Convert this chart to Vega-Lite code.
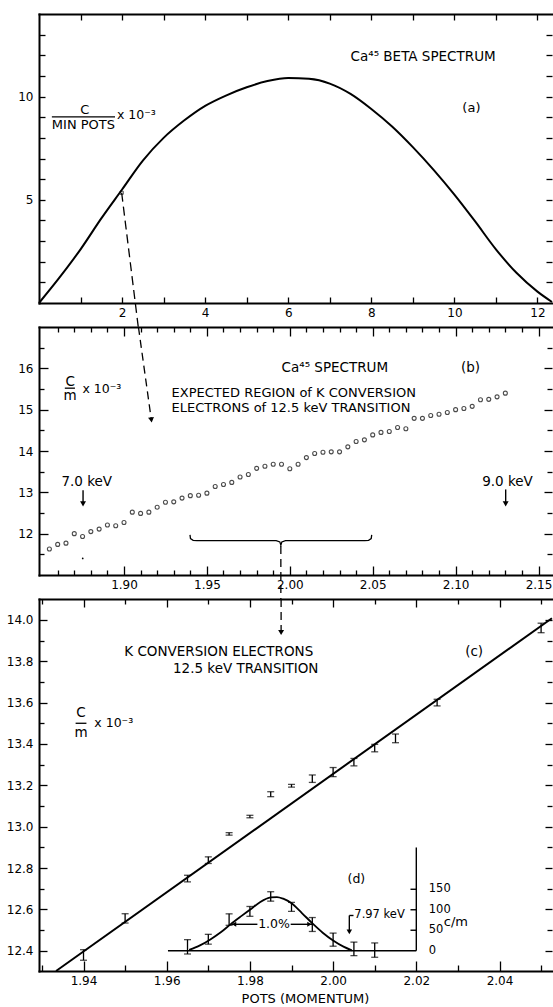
{
  "$schema": "https://vega.github.io/schema/vega-lite/v6.json",
  "background": "white",
  "padding": {"left": 6, "top": 13, "right": 0, "bottom": 0},
  "spacing": 24,
  "bounds": "flush",
  "config": {
    "view": {"stroke": null},
    "axis": {"grid": false, "domainColor": "black", "domainWidth": 2, "domainCap": "square", "tickColor": "black", "tickWidth": 1.3, "labelColor": "black", "labelFont": "DejaVu Sans", "labelFontSize": 12, "labelFlush": false, "labelOverlap": false, "titleFont": "DejaVu Sans", "titleColor": "black", "titleFontWeight": "normal", "titleFontSize": 13},
    "text": {"font": "DejaVu Sans", "fontSize": 13.5, "color": "black"}
  },
  "vconcat": [
    {
      "width": 513, "height": 289,
      "encoding": {
        "x": {"field": "x", "type": "quantitative", "scale": {"domain": [0, 12.35]}, "axis": null},
        "y": {"field": "y", "type": "quantitative", "scale": {"domain": [0, 14]}, "axis": null}
      },
      "resolve": {"axis": {"x": "independent", "y": "independent"}},
      "layer": [
        {
          "data": {"values": [
            {"x": 0, "y": 0}, {"x": 0.5, "y": 1.25}, {"x": 1.0, "y": 2.6}, {"x": 1.5, "y": 4.1}, {"x": 2.0, "y": 5.5},
            {"x": 2.5, "y": 6.9}, {"x": 3.0, "y": 8.0}, {"x": 3.5, "y": 8.85}, {"x": 4.0, "y": 9.55}, {"x": 4.5, "y": 10.05},
            {"x": 5.0, "y": 10.45}, {"x": 5.5, "y": 10.75}, {"x": 6.0, "y": 10.9}, {"x": 6.5, "y": 10.86}, {"x": 7.0, "y": 10.63},
            {"x": 7.5, "y": 10.13}, {"x": 8.0, "y": 9.4}, {"x": 8.5, "y": 8.55}, {"x": 9.0, "y": 7.55}, {"x": 9.5, "y": 6.45},
            {"x": 10.0, "y": 5.25}, {"x": 10.5, "y": 3.95}, {"x": 11.0, "y": 2.6}, {"x": 11.5, "y": 1.45}, {"x": 12.0, "y": 0.55},
            {"x": 12.35, "y": 0.05}
          ]},
          "mark": {"type": "line", "color": "black", "strokeWidth": 2, "interpolate": "monotone"},
          "encoding": {
            "x": {"field": "x", "type": "quantitative", "scale": {"domain": [0, 12.35]}, "axis": {"orient": "bottom", "values": [1,2,3,4,5,6,7,8,9,10,11,12], "tickSize": -6, "labelPadding": 10, "labelExpr": "datum.value % 2 === 0 ? datum.label : ''", "title": null}},
            "y": {"field": "y", "type": "quantitative", "scale": {"domain": [0, 14]}, "axis": {"orient": "left", "values": [1,2,3,4,5,6,7,8,9,10,11,12,13], "tickSize": -6, "labelPadding": 12, "labelExpr": "(datum.value === 5 || datum.value === 10) ? datum.label : ''", "title": null}}
          }
        },
        {
          "data": {"values": [{"x": 1.99, "y": 5.34, "x2": 2.39, "y2": -1.163}]},
          "mark": {"type": "rule", "color": "black", "strokeWidth": 1.3, "strokeDash": [9, 5], "clip": false},
          "encoding": {
            "x": {"field": "x", "type": "quantitative", "scale": {"domain": [0, 12.35]}, "axis": {"orient": "top", "values": [1,2,3,4,5,6,7,8,9,10,11,12], "tickSize": -6, "labels": false, "title": null}},
            "y": {"field": "y", "type": "quantitative", "scale": {"domain": [0, 14]}, "axis": {"orient": "right", "values": [1,2,3,4,5,6,7,8,9,10,11,12,13], "tickSize": -6, "labels": false, "domain": false, "title": null}},
            "x2": {"field": "x2"}, "y2": {"field": "y2"}
          }
        },
        {
          "data": {"values": [{"x": 1.99, "y": 5.34}]},
          "mark": {"type": "point", "shape": "square", "size": 10, "filled": false, "color": "black", "strokeWidth": 1},
          "encoding": {}
        },
        {
          "data": {"values": [{"x": 7.5, "y": 11.93, "t": "Ca⁴⁵ BETA SPECTRUM"}]},
          "mark": {"type": "text", "align": "left", "baseline": "middle", "fontSize": 13.5},
          "encoding": {"text": {"field": "t"}}
        },
        {
          "data": {"values": [{"x": 1.875, "y": 9.1, "t": "x 10⁻³"}]},
          "mark": {"type": "text", "align": "left", "baseline": "middle", "fontSize": 12.5},
          "encoding": {"text": {"field": "t"}}
        },
        {
          "data": {"values": [{"x": 10.41, "y": 9.45, "t": "(a)"}, {"x": 1.1, "y": 9.35, "t": "C"}, {"x": 1.07, "y": 8.62, "t": "MIN POTS"}]},
          "mark": {"type": "text", "align": "center", "baseline": "middle", "fontSize": 13},
          "encoding": {"text": {"field": "t"}}
        },
        {
          "data": {"values": [{"x": 0.31, "y": 9.02, "x2": 1.83, "y2": 9.02}]},
          "mark": {"type": "rule", "color": "black", "strokeWidth": 1.3},
          "encoding": {"x2": {"field": "x2"}, "y2": {"field": "y2"}}
        }
      ]
    },
    {
      "width": 513, "height": 248,
      "encoding": {
        "x": {"field": "x", "type": "quantitative", "scale": {"domain": [1.84873, 2.15814]}, "axis": null},
        "y": {"field": "y", "type": "quantitative", "scale": {"domain": [11, 17]}, "axis": null}
      },
      "resolve": {"axis": {"x": "independent", "y": "independent"}},
      "layer": [
        {
          "data": {"values": [
            {"x": 1.855, "y": 11.63}, {"x": 1.86, "y": 11.74}, {"x": 1.865, "y": 11.77}, {"x": 1.87, "y": 12.0}, {"x": 1.875, "y": 11.93},
            {"x": 1.88, "y": 12.05}, {"x": 1.885, "y": 12.11}, {"x": 1.89, "y": 12.21}, {"x": 1.895, "y": 12.19}, {"x": 1.9, "y": 12.27},
            {"x": 1.905, "y": 12.52}, {"x": 1.91, "y": 12.49}, {"x": 1.915, "y": 12.52}, {"x": 1.92, "y": 12.64}, {"x": 1.925, "y": 12.76},
            {"x": 1.93, "y": 12.77}, {"x": 1.935, "y": 12.86}, {"x": 1.94, "y": 12.92}, {"x": 1.945, "y": 12.93}, {"x": 1.95, "y": 12.98},
            {"x": 1.955, "y": 13.14}, {"x": 1.96, "y": 13.19}, {"x": 1.965, "y": 13.24}, {"x": 1.97, "y": 13.37}, {"x": 1.975, "y": 13.43},
            {"x": 1.98, "y": 13.58}, {"x": 1.985, "y": 13.63}, {"x": 1.99, "y": 13.68}, {"x": 1.995, "y": 13.68}, {"x": 2.0, "y": 13.57},
            {"x": 2.005, "y": 13.68}, {"x": 2.01, "y": 13.84}, {"x": 2.015, "y": 13.94}, {"x": 2.02, "y": 13.97}, {"x": 2.025, "y": 13.98},
            {"x": 2.03, "y": 13.98}, {"x": 2.035, "y": 14.1}, {"x": 2.04, "y": 14.23}, {"x": 2.045, "y": 14.27}, {"x": 2.05, "y": 14.39},
            {"x": 2.055, "y": 14.45}, {"x": 2.06, "y": 14.47}, {"x": 2.065, "y": 14.57}, {"x": 2.07, "y": 14.54}, {"x": 2.075, "y": 14.79},
            {"x": 2.08, "y": 14.79}, {"x": 2.085, "y": 14.86}, {"x": 2.09, "y": 14.89}, {"x": 2.095, "y": 14.93}, {"x": 2.1, "y": 15.0},
            {"x": 2.105, "y": 15.03}, {"x": 2.11, "y": 15.08}, {"x": 2.115, "y": 15.24}, {"x": 2.12, "y": 15.25}, {"x": 2.125, "y": 15.31},
            {"x": 2.13, "y": 15.4}
          ]},
          "mark": {"type": "point", "shape": "circle", "size": 16, "filled": false, "color": "black", "strokeWidth": 1.1},
          "encoding": {
            "x": {"field": "x", "type": "quantitative", "scale": {"domain": [1.84873, 2.15814]}, "axis": {"orient": "bottom", "values": [1.9, 1.95, 2.0, 2.05, 2.1, 2.15], "format": ".2f", "tickSize": -9, "labelPadding": 13, "title": null}},
            "y": {"field": "y", "type": "quantitative", "scale": {"domain": [11, 17]}, "axis": {"orient": "left", "values": [12, 13, 14, 15, 16], "tickSize": -9, "labelPadding": 15, "title": null}}
          }
        },
        {
          "data": {"values": [
            {"x": 1.9398, "y": 11.97}, {"x": 1.9401, "y": 11.88}, {"x": 1.9417, "y": 11.84}, {"x": 1.944, "y": 11.83}, {"x": 1.9918, "y": 11.83},
            {"x": 1.994, "y": 11.8}, {"x": 1.9946, "y": 11.72}, {"x": 1.9952, "y": 11.8}, {"x": 1.9974, "y": 11.83}, {"x": 2.0452, "y": 11.83},
            {"x": 2.0475, "y": 11.84}, {"x": 2.0491, "y": 11.88}, {"x": 2.0494, "y": 11.97}
          ]},
          "mark": {"type": "line", "color": "black", "strokeWidth": 1.3},
          "encoding": {
            "x": {"field": "x", "type": "quantitative", "scale": {"domain": [1.84873, 2.15814]}, "axis": {"orient": "top", "values": [1.9, 1.95, 2.0, 2.05, 2.1, 2.15], "tickSize": -9, "labels": false, "title": null}},
            "y": {"field": "y", "type": "quantitative", "scale": {"domain": [11, 17]}, "axis": {"orient": "right", "values": [12, 13, 14, 15, 16], "tickSize": -8, "labels": false, "domain": false, "title": null}}
          }
        },
        {
          "data": {"values": [{"x": 1.8753, "y": 13.05, "x2": 1.8753, "y2": 12.72}, {"x": 2.1302, "y": 13.07, "x2": 2.1302, "y2": 12.72}]},
          "mark": {"type": "rule", "color": "black", "strokeWidth": 1.4},
          "encoding": {
            "x": {"field": "x", "type": "quantitative", "scale": {"domain": [1.84873, 2.15814]}, "axis": {"orient": "bottom", "values": [1.86,1.87,1.88,1.89,1.91,1.92,1.93,1.94,1.96,1.97,1.98,1.99,2.01,2.02,2.03,2.04,2.06,2.07,2.08,2.09,2.11,2.12,2.13,2.14], "tickSize": -5, "labels": false, "domain": false, "title": null}},
            "y": {"field": "y", "type": "quantitative", "scale": {"domain": [11, 17]}, "axis": {"orient": "left", "values": [11.5,12.5,13.5,14.5,15.5,16.5], "tickSize": -5, "labels": false, "domain": false, "title": null}},
            "x2": {"field": "x2"}, "y2": {"field": "y2"}
          }
        },
        {
          "data": {"values": [{"x": 1.9087, "y": 17.0, "x2": 1.9165, "y2": 14.75}, {"x": 1.9946, "y": 11.7, "x2": 1.9946, "y2": 10.42}]},
          "mark": {"type": "rule", "color": "black", "strokeWidth": 1.3, "strokeDash": [8, 5], "clip": false},
          "encoding": {
            "x": {"field": "x", "type": "quantitative", "scale": {"domain": [1.84873, 2.15814]}, "axis": {"orient": "top", "values": [1.86,1.87,1.88,1.89,1.91,1.92,1.93,1.94,1.96,1.97,1.98,1.99,2.01,2.02,2.03,2.04,2.06,2.07,2.08,2.09,2.11,2.12,2.13,2.14], "tickSize": -5, "labels": false, "domain": false, "title": null}},
            "y": {"field": "y", "type": "quantitative", "scale": {"domain": [11, 17]}, "axis": {"orient": "right", "values": [11.5,12.5,13.5,14.5,15.5,16.5], "tickSize": -5, "labels": false, "domain": false, "title": null}},
            "x2": {"field": "x2"}, "y2": {"field": "y2"}
          }
        },
        {
          "data": {"values": [{"x": 1.8753, "y": 12.72}, {"x": 2.1302, "y": 12.72}]},
          "mark": {"type": "point", "shape": "triangle-down", "size": 35, "filled": true, "color": "black", "opacity": 1},
          "encoding": {}
        },
        {
          "data": {"values": [{"x": 1.9165, "y": 14.75}]},
          "mark": {"type": "point", "shape": "triangle-down", "size": 35, "filled": true, "color": "black", "opacity": 1, "angle": 352},
          "encoding": {}
        },
        {
          "data": {"values": [{"x": 1.8751, "y": 11.4}]},
          "mark": {"type": "point", "shape": "circle", "size": 3, "filled": true, "color": "black", "opacity": 1},
          "encoding": {}
        },
        {
          "data": {"values": [{"x": 1.995, "y": 16.0, "t": "Ca⁴⁵ SPECTRUM"}]},
          "mark": {"type": "text", "align": "left", "baseline": "middle", "fontSize": 13.5},
          "encoding": {"text": {"field": "t"}}
        },
        {
          "data": {"values": [
            {"x": 1.9287, "y": 15.395, "t": "EXPECTED REGION of K CONVERSION"},
            {"x": 1.9287, "y": 15.04, "t": "ELECTRONS of 12.5 keV TRANSITION"}
          ]},
          "mark": {"type": "text", "align": "left", "baseline": "middle", "fontSize": 13},
          "encoding": {"text": {"field": "t"}}
        },
        {
          "data": {"values": [{"x": 1.8749, "y": 15.49, "t": "x 10⁻³"}]},
          "mark": {"type": "text", "align": "left", "baseline": "middle", "fontSize": 12.5},
          "encoding": {"text": {"field": "t"}}
        },
        {
          "data": {"values": [
            {"x": 2.109, "y": 16.0, "t": "(b)"},
            {"x": 1.8775, "y": 13.245, "t": "7.0 keV"},
            {"x": 2.1313, "y": 13.245, "t": "9.0 keV"},
            {"x": 1.8675, "y": 15.68, "t": "C"},
            {"x": 1.8675, "y": 15.32, "t": "m"}
          ]},
          "mark": {"type": "text", "align": "center", "baseline": "middle", "fontSize": 13.5},
          "encoding": {"text": {"field": "t"}}
        },
        {
          "data": {"values": [{"x": 1.8643, "y": 15.52, "x2": 1.8704, "y2": 15.52}]},
          "mark": {"type": "rule", "color": "black", "strokeWidth": 1.3},
          "encoding": {"x2": {"field": "x2"}, "y2": {"field": "y2"}}
        }
      ]
    },
    {
      "width": 513, "height": 372,
      "encoding": {
        "x": {"field": "x", "type": "quantitative", "scale": {"domain": [1.9293, 2.05262]}, "axis": null},
        "y": {"field": "y", "type": "quantitative", "scale": {"domain": [12.302, 14.101]}, "axis": null}
      },
      "resolve": {"scale": {"y": "independent"}, "axis": {"x": "independent", "y": "independent"}},
      "layer": [
        {
          "data": {"name": "errc", "values": [
            {"x": 1.94, "lo": 12.354, "hi": 12.405}, {"x": 1.95, "lo": 12.534, "hi": 12.579}, {"x": 1.965, "lo": 12.733, "hi": 12.765},
            {"x": 1.97, "lo": 12.822, "hi": 12.854}, {"x": 1.975, "lo": 12.959, "hi": 12.971}, {"x": 1.98, "lo": 13.043, "hi": 13.055},
            {"x": 1.985, "lo": 13.145, "hi": 13.169}, {"x": 1.99, "lo": 13.191, "hi": 13.205}, {"x": 1.995, "lo": 13.214, "hi": 13.25},
            {"x": 2.0, "lo": 13.242, "hi": 13.286}, {"x": 2.005, "lo": 13.294, "hi": 13.33}, {"x": 2.01, "lo": 13.362, "hi": 13.398},
            {"x": 2.015, "lo": 13.406, "hi": 13.448}, {"x": 2.025, "lo": 13.584, "hi": 13.616}, {"x": 2.05, "lo": 13.938, "hi": 13.984}
          ]},
          "mark": {"type": "rule", "color": "black", "strokeWidth": 1.3},
          "encoding": {
            "x": {"field": "x", "type": "quantitative", "scale": {"domain": [1.9293, 2.05262]}, "axis": {"orient": "bottom", "values": [1.94, 1.96, 1.98, 2.0, 2.02, 2.04], "format": ".2f", "tickSize": -10, "labelPadding": 14, "title": "POTS (MOMENTUM)", "titlePadding": 6, "titleX": 266}},
            "y": {"field": "lo", "type": "quantitative", "scale": {"domain": [12.302, 14.101]}, "axis": {"orient": "left", "values": [12.4, 12.6, 12.8, 13.0, 13.2, 13.4, 13.6, 13.8, 14.0], "format": ".1f", "tickSize": -8, "labelPadding": 14, "title": null}},
            "y2": {"field": "hi"}
          }
        },
        {
          "data": {"values": [{"x": 1.9334, "y": 12.302}, {"x": 2.0526, "y": 14.008}]},
          "mark": {"type": "line", "color": "black", "strokeWidth": 2},
          "encoding": {
            "x": {"field": "x", "type": "quantitative", "scale": {"domain": [1.9293, 2.05262]}, "axis": {"orient": "top", "values": [1.94, 1.96, 1.98, 2.0, 2.02, 2.04], "tickSize": -8, "labels": false, "title": null}},
            "y": {"field": "y", "type": "quantitative", "scale": {"domain": [12.302, 14.101]}, "axis": {"orient": "right", "values": [12.4, 12.6, 12.8, 13.0, 13.2, 13.4, 13.6, 13.8, 14.0], "tickSize": -7, "labels": false, "domain": false, "title": null}}
          }
        },
        {
          "data": {"name": "errc"},
          "mark": {"type": "tick", "orient": "horizontal", "color": "black", "size": 7, "thickness": 1.3},
          "encoding": {
            "x": {"field": "x", "type": "quantitative", "scale": {"domain": [1.9293, 2.05262]}, "axis": {"orient": "bottom", "values": [1.93, 1.95, 1.97, 1.99, 2.01, 2.03, 2.05], "tickSize": -6, "labels": false, "domain": false, "title": null}},
            "y": {"field": "lo", "type": "quantitative", "scale": {"domain": [12.302, 14.101]}, "axis": {"orient": "left", "values": [12.5, 12.7, 12.9, 13.1, 13.3, 13.5, 13.7, 13.9], "tickSize": -5, "labels": false, "domain": false, "title": null}}
          }
        },
        {
          "data": {"name": "errc"},
          "mark": {"type": "tick", "orient": "horizontal", "color": "black", "size": 7, "thickness": 1.3},
          "encoding": {
            "x": {"field": "x", "type": "quantitative", "scale": {"domain": [1.9293, 2.05262]}, "axis": {"orient": "top", "values": [1.93, 1.95, 1.97, 1.99, 2.01, 2.03, 2.05], "tickSize": -5, "labels": false, "domain": false, "title": null}},
            "y": {"field": "hi", "type": "quantitative", "scale": {"domain": [12.302, 14.101]}, "axis": {"orient": "right", "values": [12.5, 12.7, 12.9, 13.1, 13.3, 13.5, 13.7, 13.9], "tickSize": -5, "labels": false, "domain": false, "title": null}}
          }
        },
        {
          "data": {"values": [{"x": 1.9875, "y": 14.101, "x2": 1.9875, "y2": 13.95}]},
          "mark": {"type": "rule", "color": "black", "strokeWidth": 1.3, "strokeDash": [8, 5], "clip": false},
          "encoding": {"x2": {"field": "x2"}, "y2": {"field": "y2"}}
        },
        {
          "data": {"values": [{"x": 1.9875, "y": 13.939}]},
          "mark": {"type": "point", "shape": "triangle-down", "size": 35, "filled": true, "color": "black", "opacity": 1},
          "encoding": {}
        },
        {
          "data": {"values": [
            {"x": 1.9498, "y": 13.847, "t": "K CONVERSION ELECTRONS"},
            {"x": 1.9615, "y": 13.763, "t": "12.5 keV TRANSITION"}
          ]},
          "mark": {"type": "text", "align": "left", "baseline": "middle", "fontSize": 13.5},
          "encoding": {"text": {"field": "t"}}
        },
        {
          "data": {"values": [{"x": 1.9426, "y": 13.503, "t": "x 10⁻³"}]},
          "mark": {"type": "text", "align": "left", "baseline": "middle", "fontSize": 12.5},
          "encoding": {"text": {"field": "t"}}
        },
        {
          "data": {"values": [
            {"x": 2.0339, "y": 13.847, "t": "(c)"},
            {"x": 1.9394, "y": 13.548, "t": "C"},
            {"x": 1.9394, "y": 13.451, "t": "m"}
          ]},
          "mark": {"type": "text", "align": "center", "baseline": "middle", "fontSize": 13.5},
          "encoding": {"text": {"field": "t"}}
        },
        {
          "data": {"values": [{"x": 1.9381, "y": 13.5, "x2": 1.9407, "y2": 13.5}]},
          "mark": {"type": "rule", "color": "black", "strokeWidth": 1.3},
          "encoding": {"x2": {"field": "x2"}, "y2": {"field": "y2"}}
        },
        {
          "data": {"values": [
            {"x": 1.9603, "y": 0, "x2": 2.02, "y2": 0},
            {"x": 2.02, "y": 0, "x2": 2.02, "y2": 252},
            {"x": 2.0186, "y": 50, "x2": 2.02, "y2": 50},
            {"x": 2.0186, "y": 100, "x2": 2.02, "y2": 100},
            {"x": 2.0186, "y": 150, "x2": 2.02, "y2": 150},
            {"x": 2.0039, "y": 86, "x2": 2.0039, "y2": 47},
            {"x": 2.0039, "y": 86, "x2": 2.0049, "y2": 86},
            {"x": 1.9755, "y": 64.5, "x2": 1.9818, "y2": 64.5},
            {"x": 1.9898, "y": 64.5, "x2": 1.995, "y2": 64.5}
          ]},
          "mark": {"type": "rule", "color": "black", "strokeWidth": 1.4},
          "encoding": {
            "y": {"field": "y", "type": "quantitative", "scale": {"domain": [-49.5, 858.5]}, "axis": null},
            "x2": {"field": "x2"}, "y2": {"field": "y2"}
          }
        },
        {
          "data": {"values": [
            {"x": 1.9654, "y": 2}, {"x": 1.968, "y": 13}, {"x": 1.9704, "y": 27}, {"x": 1.973, "y": 45}, {"x": 1.9754, "y": 65},
            {"x": 1.978, "y": 85}, {"x": 1.98, "y": 100}, {"x": 1.9825, "y": 119}, {"x": 1.985, "y": 130}, {"x": 1.9865, "y": 131},
            {"x": 1.988, "y": 127}, {"x": 1.99, "y": 116}, {"x": 1.9925, "y": 92}, {"x": 1.9951, "y": 66}, {"x": 1.9975, "y": 44},
            {"x": 2.0, "y": 25}, {"x": 2.0025, "y": 10}, {"x": 2.0045, "y": 1}
          ]},
          "mark": {"type": "line", "color": "black", "strokeWidth": 1.8, "interpolate": "monotone"},
          "encoding": {
            "y": {"field": "y", "type": "quantitative", "scale": {"domain": [-49.5, 858.5]}, "axis": null}
          }
        },
        {
          "data": {"name": "errd", "values": [
            {"x": 1.965, "lo": -8, "hi": 27}, {"x": 1.97, "lo": 16, "hi": 40}, {"x": 1.975, "lo": 62, "hi": 90},
            {"x": 1.98, "lo": 84, "hi": 108}, {"x": 1.985, "lo": 121, "hi": 144}, {"x": 1.99, "lo": 96, "hi": 118},
            {"x": 1.995, "lo": 47, "hi": 81}, {"x": 2.0, "lo": 11, "hi": 43}, {"x": 2.005, "lo": -12, "hi": 21},
            {"x": 2.01, "lo": -16, "hi": 19}
          ]},
          "mark": {"type": "rule", "color": "black", "strokeWidth": 1.3},
          "encoding": {
            "y": {"field": "lo", "type": "quantitative", "scale": {"domain": [-49.5, 858.5]}, "axis": null},
            "y2": {"field": "hi"}
          }
        },
        {
          "data": {"name": "errd"},
          "mark": {"type": "tick", "orient": "horizontal", "color": "black", "size": 7, "thickness": 1.3},
          "encoding": {
            "y": {"field": "lo", "type": "quantitative", "scale": {"domain": [-49.5, 858.5]}, "axis": null}
          }
        },
        {
          "data": {"name": "errd"},
          "mark": {"type": "tick", "orient": "horizontal", "color": "black", "size": 7, "thickness": 1.3},
          "encoding": {
            "y": {"field": "hi", "type": "quantitative", "scale": {"domain": [-49.5, 858.5]}, "axis": null}
          }
        },
        {
          "data": {"values": [{"x": 2.0039, "y": 46}]},
          "mark": {"type": "point", "shape": "triangle-down", "size": 30, "filled": true, "color": "black", "opacity": 1},
          "encoding": {
            "y": {"field": "y", "type": "quantitative", "scale": {"domain": [-49.5, 858.5]}, "axis": null}
          }
        },
        {
          "data": {"values": [{"x": 1.9762, "y": 64.5}]},
          "mark": {"type": "point", "shape": "triangle-left", "size": 25, "filled": true, "color": "black", "opacity": 1},
          "encoding": {
            "y": {"field": "y", "type": "quantitative", "scale": {"domain": [-49.5, 858.5]}, "axis": null}
          }
        },
        {
          "data": {"values": [{"x": 1.9943, "y": 64.5}]},
          "mark": {"type": "point", "shape": "triangle-right", "size": 25, "filled": true, "color": "black", "opacity": 1},
          "encoding": {
            "y": {"field": "y", "type": "quantitative", "scale": {"domain": [-49.5, 858.5]}, "axis": null}
          }
        },
        {
          "data": {"values": [
            {"x": 2.023, "y": 150, "t": "150"}, {"x": 2.023, "y": 100, "t": "100"},
            {"x": 2.023, "y": 50, "t": "50"}, {"x": 2.023, "y": 0, "t": "0"}
          ]},
          "mark": {"type": "text", "align": "left", "baseline": "middle", "fontSize": 11.5},
          "encoding": {
            "y": {"field": "y", "type": "quantitative", "scale": {"domain": [-49.5, 858.5]}, "axis": null},
            "text": {"field": "t"}
          }
        },
        {
          "data": {"values": [{"x": 2.0051, "y": 86, "t": "7.97 keV"}]},
          "mark": {"type": "text", "align": "left", "baseline": "middle", "fontSize": 11.5},
          "encoding": {
            "y": {"field": "y", "type": "quantitative", "scale": {"domain": [-49.5, 858.5]}, "axis": null},
            "text": {"field": "t"}
          }
        },
        {
          "data": {"values": [{"x": 2.0266, "y": 70, "t": "c/m"}]},
          "mark": {"type": "text", "align": "left", "baseline": "middle", "fontSize": 13},
          "encoding": {
            "y": {"field": "y", "type": "quantitative", "scale": {"domain": [-49.5, 858.5]}, "axis": null},
            "text": {"field": "t"}
          }
        },
        {
          "data": {"values": [{"x": 2.0056, "y": 176, "t": "(d)"}, {"x": 1.9858, "y": 64.5, "t": "1.0%"}]},
          "mark": {"type": "text", "align": "center", "baseline": "middle", "fontSize": 12.5},
          "encoding": {
            "y": {"field": "y", "type": "quantitative", "scale": {"domain": [-49.5, 858.5]}, "axis": null},
            "text": {"field": "t"}
          }
        }
      ]
    }
  ]
}
